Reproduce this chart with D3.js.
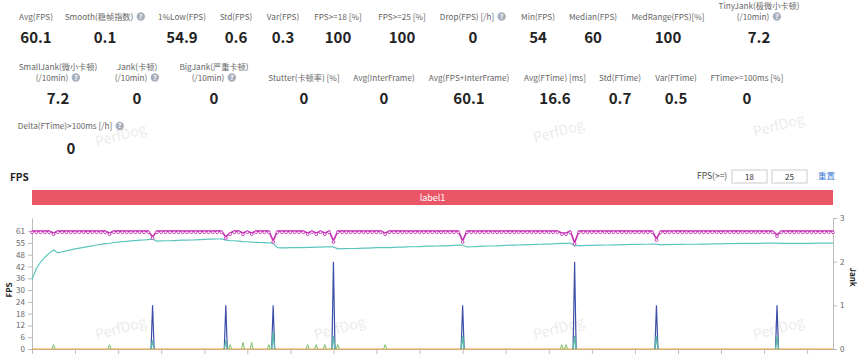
<!DOCTYPE html>
<html lang="en">
<head>
  <meta charset="UTF-8">
  <title>PerfDog FPS</title>
  <style>
    body {
      margin: 0;
      background: #fff;
      font-family: 'Noto Sans CJK SC', 'Noto Sans', sans-serif;
    }
    svg { display: block; }
    .stat-label { fill: #666; font-size: 8.2px; }
    .stat-value { fill: #222; font-size: 15px; font-weight: bold; }
    .axis text { fill: #666; font-size: 8px; font-family: 'Noto Sans CJK SC', sans-serif; }
    .axis path, .axis line { stroke: #bbb; }
  </style>
  <script src="https://d3js.org/d3.v7.min.js"></script>
</head>
<body>
  <svg id="chart"></svg>

  <script>
    // summary numbers, "|" splits a label into two lines
    const statRow1 = ["Avg(FPS)", "Smooth(稳帧指数)", "1%Low(FPS)", "Std(FPS)", "Var(FPS)", "FPS>=18 [%]",
      "FPS>=25 [%]", "Drop(FPS) [/h]", "Min(FPS)", "Median(FPS)", "MedRange(FPS)[%]", "TinyJank(极微小卡顿)|(/10min)"];
    const statRow1Values = ["60.1", "0.1", "54.9", "0.6", "0.3", "100", "100", "0", "54", "60", "100", "7.2"];
    const statRow2 = ["SmallJank(微小卡顿)|(/10min)", "Jank(卡顿)|(/10min)", "BigJank(严重卡顿)|(/10min)",
      "Stutter(卡顿率) [%]", "Avg(InterFrame)", "Avg(FPS+InterFrame)", "Avg(FTime) [ms]", "Std(FTime)",
      "Var(FTime)", "FTime>=100ms [%]"];
    const statRow2Values = ["7.2", "0", "0", "0", "0", "60.1", "16.6", "0.7", "0.5", "0"];
    const statRow3 = ["Delta(FTime)>100ms [/h]"];
    const statRow3Values = ["0"];
    const helpLabels = ["Smooth(稳帧指数)", "Drop(FPS) [/h]", "TinyJank(极微小卡顿)|(/10min)",
      "SmallJank(微小卡顿)|(/10min)", "Jank(卡顿)|(/10min)", "BigJank(严重卡顿)|(/10min)", "Delta(FTime)>100ms [/h]"];

    // chart series, one value per sample
    const fps = [
      61,61,61,61,61,60,61,61,61,61, 61,61,61,61,61,61,61,61,60,61,
      61,61,61,61,61,61,61,61,58,61, 61,61,61,61,61,61,61,61,61,61,
      61,61,61,61,61,58,60,61,61,60, 61,60,61,61,61,61,56,61,61,61,
      61,61,61,61,60,61,60,61,60,61, 56,61,61,61,61,61,61,61,61,61,
      61,61,60,61,61,61,61,61,61,61, 61,61,61,61,61,61,61,61,61,61,
      56,61,61,61,61,61,61,61,61,61, 61,61,61,61,61,61,61,61,61,61,
      61,61,61,60,60,61,55,61,61,61, 61,61,61,61,61,61,61,61,61,61,
      61,61,61,61,61,57,61,61,61,61, 61,61,61,61,61,61,61,61,61,61,
      61,61,61,61,61,61,61,61,61,61, 61,61,61,59,61,61,61,61,61,61,
      61,61,61,61,61,61,61
    ];
    const fpsTrend = [
      36.0,41.5,45.0,47.5,49.6,51.2,49.8,50.3,50.8,51.3, 51.8,52.2,52.6,53.0,53.4,53.8,54.1,54.5,54.7,55.1,
      55.3,55.5,55.7,55.9,56.1,56.3,56.4,56.6,56.8,55.8, 55.9,56.0,56.0,56.1,56.2,56.3,56.3,56.4,56.5,56.6,
      56.7,56.8,56.8,56.9,57.0,56.3,56.1,56.0,55.8,55.6, 55.5,55.3,55.2,55.1,55.0,54.9,54.7,52.4,52.3,52.3,
      52.4,52.4,52.5,52.5,52.6,52.6,52.7,52.7,52.8,52.8, 52.8,51.8,51.9,51.9,52.0,52.0,52.1,52.2,52.2,52.3,
      52.4,52.4,52.5,52.5,52.6,52.7,52.7,52.8,52.9,52.9, 53.0,53.1,53.2,53.2,53.3,53.4,53.4,53.5,53.6,53.7,
      53.8,52.8,52.9,53.0,53.1,53.2,53.3,53.3,53.4,53.5, 53.6,53.7,53.7,53.8,53.9,54.0,54.0,54.1,54.2,54.3,
      54.3,54.4,54.5,54.6,54.7,54.8,53.4,53.5,53.5,53.6, 53.6,53.7,53.7,53.8,53.8,53.9,53.9,54.0,54.0,54.1,
      54.1,54.1,54.2,54.2,54.3,54.3,53.9,54.0,54.0,54.1, 54.1,54.1,54.2,54.2,54.2,54.3,54.3,54.3,54.4,54.4,
      54.4,54.5,54.5,54.5,54.6,54.6,54.6,54.7,54.7,54.7, 54.8,54.8,54.8,54.8,54.6,54.6,54.6,54.7,54.7,54.7,
      54.7,54.7,54.8,54.8,54.8,54.8,54.8
    ];
    // jank events: sample index and count (right axis)
    const jankAt = [28, 45, 56, 70, 100, 126, 145, 173];
    const jankCount = [1, 1, 1, 2, 1, 2, 1, 1];
    const smallJankCount = [0.2, 0.2, 0.4, 0.3, 0.3, 0.3, 0.3, 0.3];
    const tinyJankAt = [5, 18, 46, 49, 51, 55, 64, 66, 68, 71, 82, 123, 124];
    const tinyJankCount = [0.1, 0.1, 0.1, 0.15, 0.15, 0.1, 0.1, 0.1, 0.1, 0.1, 0.1, 0.1, 0.1];
    const interFrame = [0, 0];

    const fpsTickLabels = ["0", "6", "12", "18", "24", "30", "36", "42", "48", "55", "61"];
    const jankTicks = [0, 1, 2, 3];
    const fpsThresholds = ["18", "25"];
    const labelName = "label1";

    const width = 866, height = 354;
    const svg = d3.select("#chart").attr("width", width).attr("height", height);

    // faint watermarks
    const marks = svg.append("g");
    [[122, 140], [560, 136], [780, 130], [122, 333], [341, 333], [560, 333], [780, 333]]
      .forEach(([wx, wy]) => {
        marks.append("text")
          .attr("transform", `translate(${wx},${wy}) rotate(-15)`)
          .attr("text-anchor", "middle")
          .attr("font-size", 14)
          .attr("fill", "#ececec")
          .text("PerfDog");
      });

    // summary block
    function drawRow(labels, values, centers, labelY, valueY) {
      labels.forEach((lab, i) => {
        const lines = lab.split("|");
        const g = svg.append("g");
        lines.forEach((line, k) => {
          const y = labelY - (lines.length - 1 - k) * 10.5;
          const t = g.append("text").attr("class", "stat-label").attr("y", y).text(line);
          const w = t.node().getComputedTextLength();
          const hasHelp = helpLabels.includes(lab) && k === lines.length - 1;
          const total = w + (hasHelp ? 12 : 0);
          const x0 = centers[i] - total / 2;
          t.attr("x", x0);
          if (hasHelp) {
            g.append("circle").attr("cx", x0 + w + 7.5).attr("cy", y - 3).attr("r", 4.2).attr("fill", "#a8afbc");
            g.append("text").attr("x", x0 + w + 7.5).attr("y", y - 0.6)
              .attr("text-anchor", "middle").attr("font-size", 6.5).attr("font-weight", "bold")
              .attr("fill", "#fff").text("?");
          }
        });
        svg.append("text").attr("class", "stat-value")
          .attr("x", centers[i]).attr("y", valueY)
          .attr("text-anchor", "middle").text(values[i]);
      });
    }
    drawRow(statRow1, statRow1Values, [36, 105, 182, 236, 283, 338, 402, 473, 538, 593, 668, 759], 19.5, 43);
    drawRow(statRow2, statRow2Values, [58, 137, 214, 304, 384, 469, 555, 620, 676, 747], 80.5, 104);
    drawRow(statRow3, statRow3Values, [71], 129, 154);

    // chart header
    svg.append("text").attr("x", 10).attr("y", 181)
      .attr("font-size", 10).attr("font-weight", "bold").attr("fill", "#222").text("FPS");
    svg.append("text").attr("x", 697).attr("y", 179)
      .attr("font-size", 8.5).attr("fill", "#444").text("FPS(>=)");
    fpsThresholds.forEach((v, i) => {
      const bx = 732 + i * 40;
      svg.append("rect").attr("x", bx).attr("y", 170).attr("width", 35).attr("height", 13)
        .attr("fill", "#fff").attr("stroke", "#ccc");
      svg.append("text").attr("x", bx + 17.5).attr("y", 179.5).attr("text-anchor", "middle")
        .attr("font-size", 8).attr("fill", "#333").text(v);
    });
    svg.append("text").attr("x", 818).attr("y", 179)
      .attr("font-size", 8.5).attr("fill", "#3a7bd5").text("重置");

    // scales
    const last = fps.length - 1;
    const x = d3.scaleLinear().domain([0, last]).range([32, 833]);
    const yL = d3.scaleLinear().domain([0, 61 / 0.9]).range([349, 218]);
    const yR = d3.scaleLinear().domain([0, 3]).range([349, 218]);

    // label band
    svg.append("rect").attr("x", x(0)).attr("y", 190).attr("width", x(last) - x(0)).attr("height", 15)
      .attr("fill", "#eb5667");
    svg.append("text").attr("x", (x(0) + x(last)) / 2).attr("y", 200.5)
      .attr("text-anchor", "middle").attr("font-size", 9).attr("fill", "#fff").text(labelName);

    // axes
    svg.append("g").attr("class", "axis").attr("transform", "translate(32,0)")
      .call(d3.axisLeft(yL).tickValues(fpsTickLabels.map((d, i) => i * 6.1))
        .tickFormat((d, i) => fpsTickLabels[i]).tickSize(4).tickSizeOuter(0));
    svg.append("g").attr("class", "axis").attr("transform", "translate(833,0)")
      .call(d3.axisRight(yR).tickValues(jankTicks).tickFormat(d3.format("d")).tickSize(4).tickSizeOuter(0));
    svg.append("g").attr("class", "axis").attr("transform", "translate(0,349)")
      .call(d3.axisBottom(x).tickValues(d3.range(0, fps.length, 10)).tickFormat("").tickSize(5).tickSizeOuter(0));

    svg.append("text").attr("transform", "translate(12,290) rotate(-90)")
      .attr("text-anchor", "middle").attr("font-size", 8).attr("font-weight", "bold").attr("fill", "#222").text("FPS");
    svg.append("text").attr("transform", "translate(850,277) rotate(90)")
      .attr("text-anchor", "middle").attr("font-size", 8).attr("font-weight", "bold").attr("fill", "#222").text("Jank");

    // series
    const lineL = d3.line().x((d, i) => x(i)).y(d => yL(d));

    // zero series along the bottom
    svg.append("line").attr("x1", x(0)).attr("x2", x(last))
      .attr("y1", yL(interFrame[0])).attr("y2", yL(interFrame[1]))
      .attr("stroke", "#f0a23c").attr("stroke-width", 1.2);

    // narrow spikes for jank events
    const spike = (at, v) => {
      const half = 0.35;
      return `M${x(at - half)},${yR(0)}L${x(at)},${yR(v)}L${x(at + half)},${yR(0)}`;
    };
    function drawSpikes(idx, vals, color, w) {
      svg.append("g").selectAll("path").data(idx).join("path")
        .attr("d", (d, i) => spike(d, vals[i]))
        .attr("fill", "none").attr("stroke", color).attr("stroke-width", w);
    }
    drawSpikes(tinyJankAt, tinyJankCount, "#7cc06a", 1);
    drawSpikes(jankAt, jankCount, "#3d4fa8", 1.2);
    drawSpikes(jankAt, smallJankCount, "#5cb8a8", 1.4);

    svg.append("path").datum(fpsTrend).attr("d", lineL)
      .attr("fill", "none").attr("stroke", "#5cc6be").attr("stroke-width", 1.2);
    svg.append("path").datum(fps).attr("d", lineL)
      .attr("fill", "none").attr("stroke", "#c42fb2").attr("stroke-width", 1.6);
    svg.append("g").selectAll("circle").data(fps).join("circle")
      .attr("cx", (d, i) => x(i)).attr("cy", d => yL(d) + 1.2).attr("r", 1.4)
      .attr("fill", "#fff").attr("stroke", "#c42fb2").attr("stroke-width", 0.9);
  </script>
</body>
</html>
